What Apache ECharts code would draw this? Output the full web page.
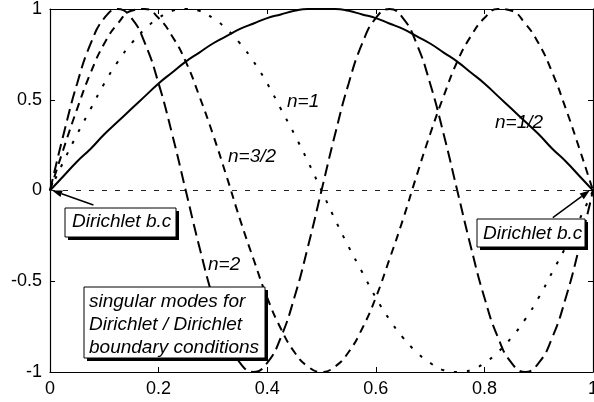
<!DOCTYPE html>
<html>
<head>
<meta charset="utf-8">
<script src="https://cdn.jsdelivr.net/npm/echarts@6/dist/echarts.min.js"></script>
<style>
html,body{margin:0;padding:0;background:#fff;}
#c{width:594px;height:402px;}
</style>
</head>
<body>
<div id="c"></div>
<script>
// sample positions along the string (x from 0 to 1)
const xs = [0,0.025,0.05,0.075,0.1,0.125,0.15,0.175,0.2,0.225,0.25,0.275,0.3,0.325,0.35,0.375,0.4,0.425,0.45,0.475,0.5,
            0.525,0.55,0.575,0.6,0.625,0.65,0.675,0.7,0.725,0.75,0.775,0.8,0.825,0.85,0.875,0.9,0.925,0.95,0.975,1];
// n = 1/2 (solid)
const modeHalf = [0,0.08,0.16,0.23,0.31,0.38,0.45,0.52,0.59,0.65,0.71,0.76,0.81,0.85,0.89,0.92,0.95,0.97,0.99,1.0,1.0,
                  1.0,0.99,0.97,0.95,0.92,0.89,0.85,0.81,0.76,0.71,0.65,0.59,0.52,0.45,0.38,0.31,0.23,0.16,0.08,0];
// n = 1 (dotted)
const modeOne = [0,0.16,0.31,0.45,0.59,0.71,0.81,0.89,0.95,0.99,1,0.99,0.95,0.89,0.81,0.71,0.59,0.45,0.31,0.16,0,
                 -0.16,-0.31,-0.45,-0.59,-0.71,-0.81,-0.89,-0.95,-0.99,-1,-0.99,-0.95,-0.89,-0.81,-0.71,-0.59,-0.45,-0.31,-0.16,0];
// n = 3/2 (medium dashes)
const modeThreeHalf = [0,0.23,0.45,0.65,0.81,0.92,0.99,1.0,0.95,0.85,0.71,0.52,0.31,0.08,-0.16,-0.38,-0.59,-0.76,-0.89,-0.97,-1,
                       -0.97,-0.89,-0.76,-0.59,-0.38,-0.16,0.08,0.31,0.52,0.71,0.85,0.95,1.0,0.99,0.92,0.81,0.65,0.45,0.23,0];
// n = 2 (long dashes)
const modeTwo = [0,0.31,0.59,0.81,0.95,1,0.95,0.81,0.59,0.31,0,-0.31,-0.59,-0.81,-0.95,-1,-0.95,-0.81,-0.59,-0.31,0,
                 0.31,0.59,0.81,0.95,1,0.95,0.81,0.59,0.31,0,-0.31,-0.59,-0.81,-0.95,-1,-0.95,-0.81,-0.59,-0.31,0];

const xTicks = [0,0.2,0.4,0.6,0.8,1];
const yTicks = [-1,-0.5,0,0.5,1];

const curveLabels = ['n=1/2','n=1','n=3/2','n=2'];
const bcLabel = 'Dirichlet b.c';
const noteLines = ['singular modes for','Dirichlet / Dirichlet','boundary conditions'];

// arrow tails (near the boxes) and heads (the clamped ends), in data units
const arrowTails = [[0.08,-0.08],[0.926,-0.15]];
const arrowHeads = [[0.004,0],[0.994,0]];

const FONT = '"Liberation Sans", Arial, Helvetica, sans-serif';

function pts(ys){ return xs.map((x,i)=>[x, ys[i]]); }

const chart = echarts.init(document.getElementById('c'), null, {renderer:'canvas'});

const axisCommon = {
  type:'value',
  axisLine:{show:true, onZero:false, lineStyle:{color:'#000', width:1.2}},
  axisTick:{show:true, inside:true, length:5, lineStyle:{color:'#000'}},
  splitLine:{show:false}
};

const txt = (t, x, y) => ({
  type:'text', z:110, x:x, y:y,
  style:{text:t, fill:'#000', font:'italic 19px ' + FONT, textVerticalAlign:'middle'}
});

function box(x, y, w, h){
  return [
    {type:'rect', z:99, shape:{x:x+3, y:y+3, width:w, height:h}, style:{fill:'#000'}},
    {type:'rect', z:100, shape:{x:x, y:y, width:w, height:h}, style:{fill:'#fff', stroke:'#000', lineWidth:1}}
  ];
}

chart.setOption({
  animation:false,
  backgroundColor:'#fff',
  grid:{left:50, right:1, top:9, bottom:30, containLabel:false, outerBoundsMode:'none'},
  xAxis:[
    Object.assign({}, axisCommon, {min:0, max:1, interval:0.2, position:'bottom',
      axisLabel:{show:true, color:'#000', fontSize:18, fontFamily:FONT, margin:8,
        formatter:v=>{ const t = xTicks.find(k=>Math.abs(k-v)<1e-9); return t===undefined?'':String(t); }}}),
    Object.assign({}, axisCommon, {min:0, max:1, interval:0.2, position:'top', axisLabel:{show:false}})
  ],
  yAxis:[
    Object.assign({}, axisCommon, {min:-1, max:1, interval:0.5, position:'left',
      axisLabel:{show:true, color:'#000', fontSize:18, fontFamily:FONT, margin:8,
        formatter:v=>{ const t = yTicks.find(k=>Math.abs(k-v)<1e-9); return t===undefined?'':String(t); }}}),
    Object.assign({}, axisCommon, {min:-1, max:1, interval:0.5, position:'right', axisLabel:{show:false}})
  ],
  series:[
    {name:curveLabels[0], type:'line', data:pts(modeHalf), smooth:true, symbol:'none',
      lineStyle:{color:'#000', width:2, type:'solid'},
      markLine:{silent:true, symbol:['none','none'], label:{show:false},
        lineStyle:{color:'#222', width:1, type:[5,8]},
        data:[{yAxis:0}]}},
    {name:curveLabels[1], type:'line', data:pts(modeOne), smooth:true, symbol:'none',
      lineStyle:{color:'#000', width:2, type:[3,10]}},
    {name:curveLabels[2], type:'line', data:pts(modeThreeHalf), smooth:true, symbol:'none',
      lineStyle:{color:'#000', width:2, type:[8,6]}},
    {name:curveLabels[3], type:'line', data:pts(modeTwo), smooth:true, symbol:'none',
      lineStyle:{color:'#000', width:2, type:[12,6]}}
  ]
});

// arrows and annotation boxes, placed through the grid's coordinate conversion
const g = [];
arrowTails.forEach((t,i)=>{
  const a = chart.convertToPixel({gridIndex:0}, t);
  const b = chart.convertToPixel({gridIndex:0}, arrowHeads[i]);
  const ang = Math.atan2(b[1]-a[1], b[0]-a[0]);
  const L = 10, W = 3.5;
  const bx = b[0]-L*Math.cos(ang), by = b[1]-L*Math.sin(ang);
  g.push({type:'line', z:105, shape:{x1:a[0], y1:a[1], x2:bx, y2:by}, style:{stroke:'#000', lineWidth:1.5}});
  g.push({type:'polygon', z:105, shape:{points:[
    [b[0], b[1]],
    [bx + W*Math.sin(ang), by - W*Math.cos(ang)],
    [bx - W*Math.sin(ang), by + W*Math.cos(ang)]
  ]}, style:{fill:'#000'}});
});
g.push(txt(curveLabels[1], 287, 102));
g.push(txt(curveLabels[2], 228, 157));
g.push(txt(curveLabels[3], 208, 265));
g.push(txt(curveLabels[0], 495, 123));
g.push(...box(65, 208, 111, 29));
g.push(txt(bcLabel, 72, 222));
g.push(...box(477, 219, 108, 28));
g.push(txt(bcLabel, 483, 234));
g.push(...box(84, 287, 181, 71));
g.push(txt(noteLines[0], 89, 302));
g.push(txt(noteLines[1], 89, 325));
g.push(txt(noteLines[2], 89, 348));
chart.setOption({graphic:g});
</script>
</body>
</html>
